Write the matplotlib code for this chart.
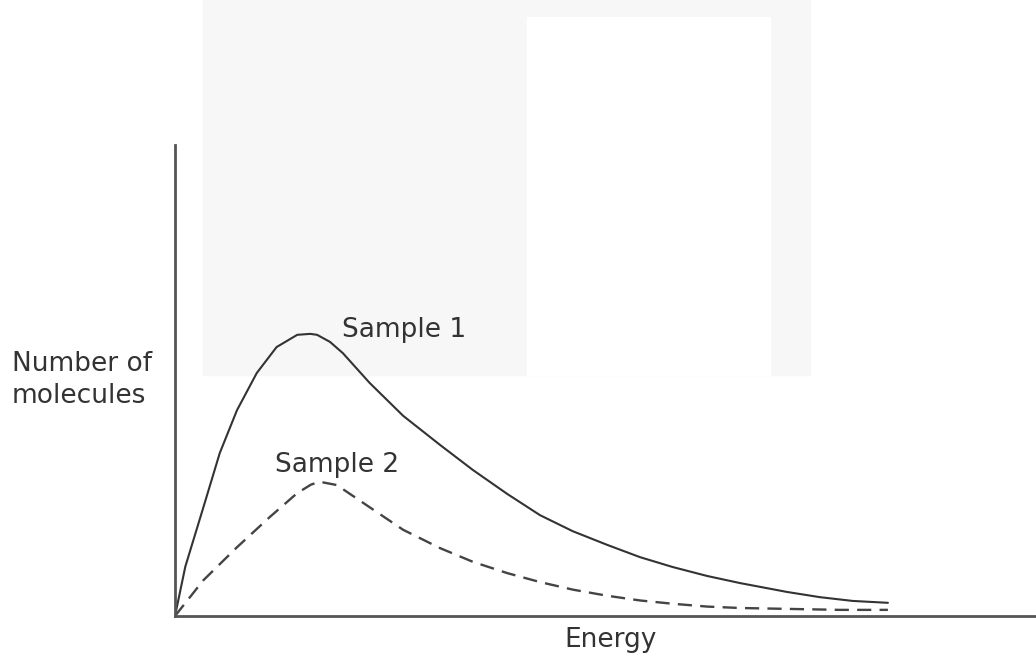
import matplotlib.pyplot as plt
from matplotlib.patches import Rectangle

# Energy (arbitrary units) and number of molecules
energy_1 = [0, 0.12, 0.33, 0.52, 0.72, 0.95, 1.18, 1.42, 1.57, 1.65, 1.80, 1.95, 2.26,
            2.65, 3.08, 3.46, 3.86, 4.24, 4.62, 5.02, 5.40, 5.78, 6.18, 6.56, 7.11,
            7.49, 7.87, 8.28]
sample_1 = [0, 10.5, 23.1, 34.6, 43.7, 51.6, 57.1, 59.7, 59.9, 59.7, 58.2, 55.8, 49.5,
            42.5, 36.3, 31.0, 25.9, 21.4, 18.0, 15.1, 12.5, 10.4, 8.5, 7.0, 5.1,
            4.0, 3.2, 2.8]

energy_2 = [0, 0.33, 0.72, 1.10, 1.42, 1.58, 1.68, 1.88, 2.26, 2.65, 3.08, 3.46, 3.86,
            4.24, 4.62, 5.02, 5.40, 5.78, 6.18, 6.56, 7.14, 7.72, 8.28]
sample_2 = [0, 7.6, 14.6, 21.0, 26.1, 27.9, 28.5, 27.8, 23.1, 18.3, 14.4, 11.5, 9.1,
            7.2, 5.6, 4.3, 3.3, 2.6, 2.0, 1.7, 1.5, 1.3, 1.3]

W, H = 1036, 657
fig = plt.figure(figsize=(W / 100, H / 100), dpi=100)
fig.patch.set_facecolor('white')

# faint watermark blocks in the background
fig.patches.append(Rectangle((203 / W, 1 - 375 / H), 607 / W, 375 / H,
                             transform=fig.transFigure, color='#f7f7f7', zorder=-10))
fig.patches.append(Rectangle((527 / W, 1 - 375 / H), 243 / W, 358 / H,
                             transform=fig.transFigure, color='white', zorder=-9))

ax = fig.add_axes([175 / W, 41 / H, (W - 175) / W, 471 / H])
ax.set_facecolor('none')

ax.plot(energy_1, sample_1, color='#333333', lw=1.5, solid_capstyle='round',
        solid_joinstyle='round')
ax.plot(energy_2, sample_2, color='#444444', lw=1.7, linestyle=(0, (6, 3.5)))

ax.set_xlim(0, 10)
ax.set_ylim(0, 100)
ax.set_xticks([])
ax.set_yticks([])
for side in ['top', 'right']:
    ax.spines[side].set_visible(False)
for side in ['left', 'bottom']:
    ax.spines[side].set_color('#555555')
    ax.spines[side].set_linewidth(2.0)

font = dict(family='DejaVu Sans', size=19, color='#333333')
fig.text(12 / W, 1 - 403 / H, "Number of\nmolecules", ha='left', va='baseline',
         linespacing=1.3, **font)
fig.text(342 / W, 1 - 337 / H, "Sample 1", ha='left', va='baseline', **font)
fig.text(275 / W, 1 - 472 / H, "Sample 2", ha='left', va='baseline', **font)
fig.text(611 / W, 1 - 647 / H, "Energy", ha='center', va='baseline', **font)

plt.savefig('out.png', dpi=100)
